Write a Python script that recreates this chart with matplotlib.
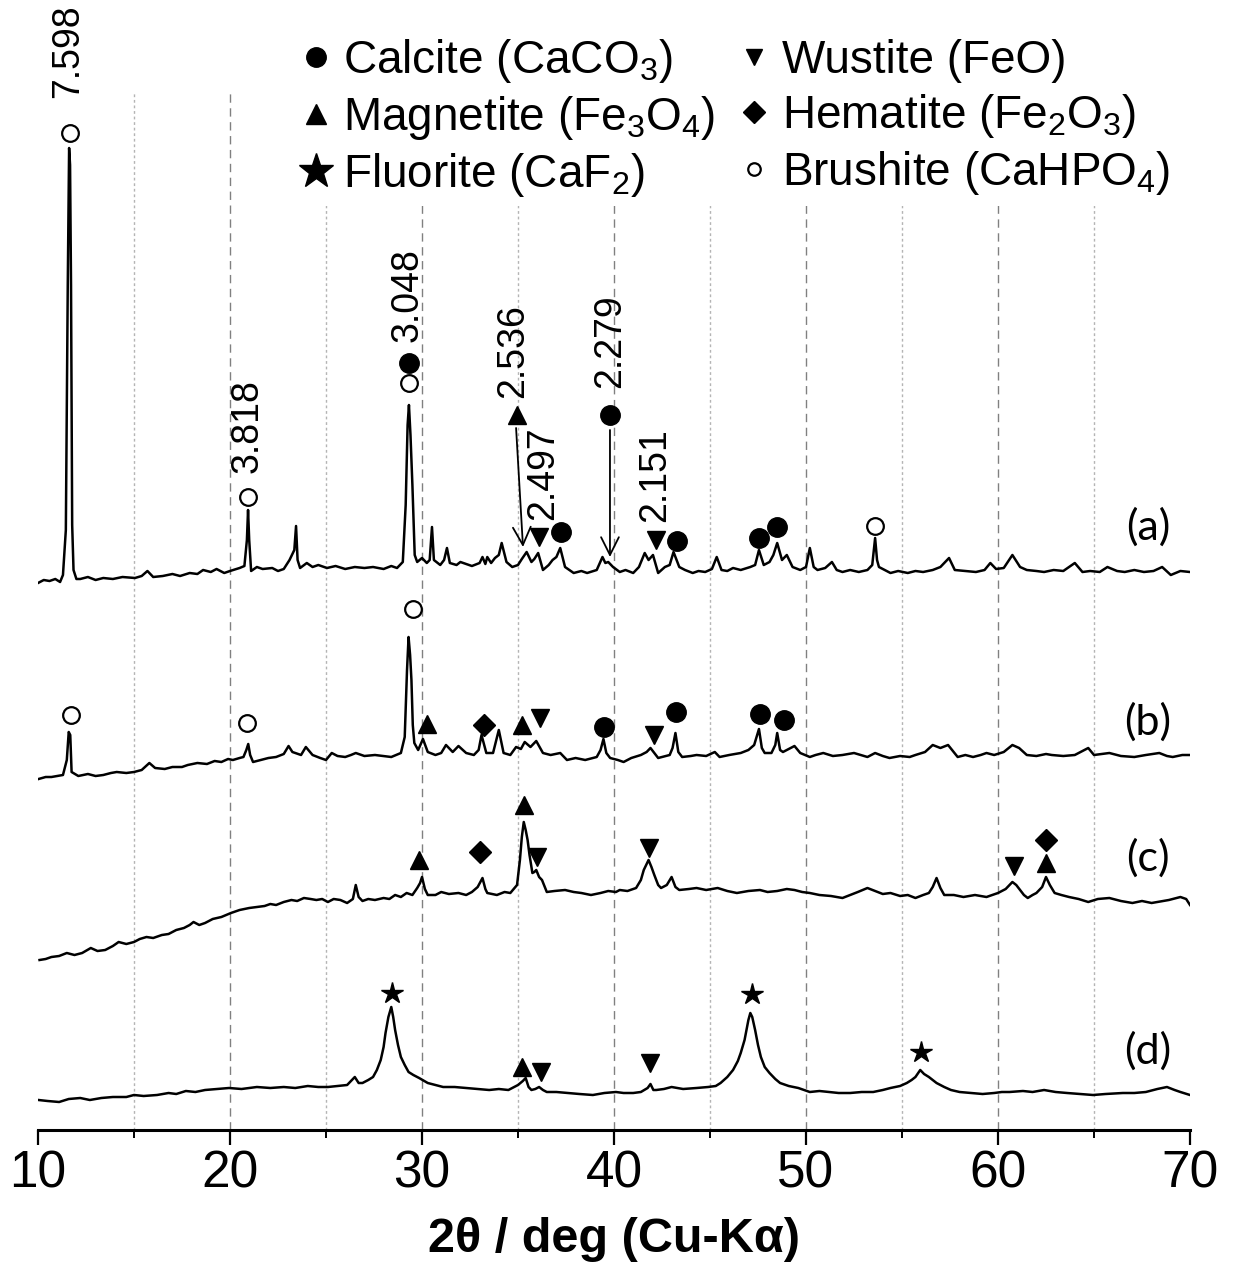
import matplotlib
matplotlib.use("Agg")
import matplotlib.pyplot as plt
import matplotlib.font_manager as fm
from matplotlib.lines import Line2D
import numpy as np

# fonts: narrow sans if available
names = {f.name for f in fm.fontManager.ttflist}
narrow = "Liberation Sans Narrow" if "Liberation Sans Narrow" in names else "Liberation Sans"
plt.rcParams["font.family"] = [narrow, "DejaVu Sans"]
plt.rcParams["mathtext.default"] = "regular"

####################
# Data (read off)  #
####################
# 2theta (deg) and intensity (a.u.) relative to each trace's own reference level
tt_a = [10.0, 10.3, 10.6, 10.9, 11.15, 11.3, 11.45, 11.55, 11.62, 11.67, 11.72, 11.78, 11.85, 12.0, 12.2, 12.6,
        13.0, 13.4, 13.9, 14.4, 15.05, 15.4, 15.7, 16.0, 16.5, 17.0, 17.4, 17.9, 18.3, 18.6, 19.0, 19.3, 19.7,
        20.0, 20.5, 20.75, 20.88, 20.94, 21.0, 21.1, 21.4, 21.7, 22.2, 22.5, 22.8, 23.1, 23.35, 23.44, 23.52,
        23.65, 24.0, 24.3, 24.6, 25.05, 25.5, 26.0, 26.5, 27.0, 27.45, 28.0, 28.4, 28.7, 29.0, 29.15, 29.25,
        29.32, 29.4, 29.5, 29.62, 29.75, 30.0, 30.25, 30.4, 30.52, 30.62, 30.95, 31.15, 31.3, 31.45, 31.8, 32.0,
        32.3, 32.6, 33.0, 33.15, 33.3, 33.4, 33.6, 33.8, 34.0, 34.15, 34.4, 34.7, 35.0, 35.2, 35.45, 35.7, 35.85,
        36.05, 36.3, 36.6, 36.8, 37.0, 37.2, 37.45, 37.9, 38.3, 38.6, 39.1, 39.4, 39.55, 39.7, 39.95, 40.3, 40.6,
        41.0, 41.3, 41.45, 41.6, 41.8, 42.03, 42.3, 42.65, 42.9, 43.1, 43.4, 43.7, 44.1, 44.4, 44.75, 45.1, 45.35,
        45.6, 45.9, 46.2, 46.6, 47.1, 47.35, 47.55, 47.8, 48.1, 48.3, 48.5, 48.75, 49.0, 49.3, 49.7, 50.0, 50.2,
        50.4, 50.6, 51.0, 51.35, 51.6, 51.9, 52.3, 52.75, 53.2, 53.45, 53.6, 53.7, 53.8, 54.4, 54.8, 55.3, 55.7,
        56.1, 56.6, 57.0, 57.45, 57.75, 58.3, 58.85, 59.3, 59.6, 59.9, 60.3, 60.75, 61.15, 61.5, 62.0, 62.4, 62.9,
        63.4, 64.0, 64.4, 64.8, 65.3, 65.7, 66.2, 66.6, 67.1, 67.6, 68.1, 68.55, 69.0, 69.5, 70.0]
int_a = [2, 5, 4, 6, 3, 10, 55, 300, 437, 420, 300, 60, 15, 6, 6, 8,
         5, 7, 6, 8, 7, 9, 14, 8, 9, 11, 9, 12, 11, 15, 13, 16, 12,
         14, 17, 19, 45, 75, 45, 14, 18, 16, 17, 14, 16, 25, 35, 59, 25,
         17, 22, 18, 20, 17, 19, 16, 18, 17, 18, 16, 19, 17, 23, 80, 160,
         180, 150, 100, 30, 23, 27, 22, 25, 58, 25, 20, 25, 37, 22, 20, 23,
         21, 19, 22, 28, 21, 28, 22, 27, 30, 42, 23, 18, 20, 26, 33, 23, 26,
         32, 15, 20, 25, 28, 37, 18, 12, 14, 12, 15, 28, 22, 23, 18, 13, 15,
         12, 18, 25, 32, 25, 30, 12, 18, 20, 33, 18, 15, 12, 14, 13, 16, 28,
         15, 14, 17, 15, 18, 20, 35, 20, 23, 30, 42, 25, 30, 18, 15, 18, 37,
         18, 15, 17, 23, 15, 13, 15, 13, 15, 20, 47, 25, 18, 12, 14, 12, 14,
         13, 15, 18, 27, 15, 14, 13, 15, 22, 16, 17, 30, 18, 15, 14, 13, 15,
         14, 22, 13, 14, 13, 18, 14, 13, 15, 13, 14, 18, 10, 14, 13]

tt_b = [10.03, 10.4, 10.7, 11.0, 11.3, 11.5, 11.6, 11.68, 11.75, 12.1, 12.6, 13.0, 13.4, 13.8, 14.1, 14.6, 15.0,
        15.4, 15.8, 16.1, 16.6, 17.0, 17.5, 17.8, 18.3, 18.8, 19.2, 19.55, 19.9, 20.15, 20.5, 20.7, 20.85, 20.95,
        21.05, 21.2, 21.6, 22.0, 22.4, 22.8, 23.05, 23.25, 23.4, 23.7, 23.95, 24.3, 24.7, 25.0, 25.3, 25.6, 26.0,
        26.3, 26.55, 27.0, 27.55, 28.0, 28.4, 28.9, 29.1, 29.22, 29.3, 29.38, 29.45, 29.52, 29.6, 29.8, 30.05,
        30.3, 30.7, 31.0, 31.25, 31.6, 31.9, 32.3, 32.7, 32.95, 33.1, 33.35, 33.7, 34.0, 34.25, 34.6, 34.9, 35.15,
        35.35, 35.65, 35.95, 36.3, 36.7, 37.2, 37.55, 38.0, 38.5, 39.1, 39.3, 39.45, 39.6, 39.8, 40.2, 40.5, 40.9,
        41.4, 41.7, 41.9, 42.3, 42.9, 43.05, 43.2, 43.35, 43.55, 44.0, 44.3, 44.8, 45.25, 45.5, 46.0, 46.6, 47.0,
        47.3, 47.55, 47.7, 47.85, 48.2, 48.4, 48.5, 48.65, 48.8, 49.1, 49.4, 49.7, 50.2, 50.5, 50.9, 51.4, 51.9,
        52.5, 53.2, 53.6, 54.0, 54.35, 54.9, 55.4, 55.7, 56.2, 56.6, 57.0, 57.4, 57.9, 58.3, 58.7, 59.1, 59.4,
        59.8, 60.3, 60.75, 61.1, 61.5, 62.0, 62.5, 62.8, 63.4, 64.0, 64.7, 65.0, 65.4, 65.8, 66.4, 67.1, 67.7,
        68.4, 68.8, 69.1, 69.6, 70.0]
int_b = [1, 3, 3, 4, 5, 20, 48, 45, 8, 4, 6, 4, 5, 7, 8, 7, 8,
         10, 17, 12, 11, 13, 13, 15, 17, 16, 19, 18, 21, 20, 22, 23, 30, 36,
         25, 18, 20, 22, 23, 26, 34, 28, 27, 25, 33, 25, 22, 20, 27, 24, 23,
         25, 27, 24, 25, 24, 23, 27, 43, 110, 143, 125, 100, 55, 37, 30, 41,
         28, 25, 27, 35, 28, 34, 27, 25, 30, 45, 27, 27, 50, 27, 25, 33, 31,
         38, 33, 39, 27, 25, 27, 20, 22, 20, 23, 30, 41, 27, 22, 20, 18, 22,
         25, 28, 32, 22, 25, 32, 47, 28, 23, 24, 25, 24, 28, 23, 25, 27, 30,
         35, 51, 32, 27, 27, 35, 47, 30, 28, 31, 34, 27, 23, 25, 27, 24, 25,
         27, 23, 27, 24, 22, 24, 23, 25, 28, 35, 32, 35, 23, 25, 23, 25, 27,
         25, 28, 35, 32, 25, 24, 26, 25, 24, 25, 32, 25, 26, 27, 24, 23, 25,
         27, 24, 23, 25, 25]

tt_c = [10.08, 10.4, 10.7, 11.1, 11.5, 11.9, 12.3, 12.75, 13.1, 13.5, 13.9, 14.2, 14.6, 15.0, 15.3, 15.65, 16.0,
        16.45, 16.8, 17.2, 17.6, 17.9, 18.1, 18.4, 18.7, 19.1, 19.55, 19.8, 20.05, 20.5, 21.0, 21.4, 21.8, 22.1,
        22.4, 22.8, 23.2, 23.5, 23.85, 24.2, 24.5, 24.8, 25.1, 25.4, 25.75, 26.1, 26.4, 26.55, 26.7, 26.9, 27.2,
        27.55, 28.0, 28.3, 28.6, 28.9, 29.2, 29.5, 29.75, 29.9, 30.0, 30.15, 30.3, 30.7, 31.0, 31.4, 31.9, 32.3,
        32.6, 32.9, 33.15, 33.3, 33.4, 33.9, 34.3, 34.6, 34.95, 35.1, 35.2, 35.3, 35.4, 35.5, 35.6, 35.75, 35.85,
        35.95, 36.1, 36.25, 36.5, 36.9, 37.45, 37.9, 38.3, 38.8, 39.3, 39.7, 40.1, 40.3, 40.7, 41.15, 41.4, 41.55,
        41.8, 41.95, 42.1, 42.3, 42.45, 42.75, 43.0, 43.2, 43.4, 43.9, 44.3, 44.8, 45.4, 45.9, 46.4, 47.0, 47.6,
        48.0, 48.5, 49.0, 49.4, 49.8, 50.2, 50.7, 51.3, 51.9, 52.3, 52.7, 53.2, 53.6, 54.0, 54.4, 54.9, 55.3,
        55.7, 56.1, 56.4, 56.6, 56.8, 57.0, 57.2, 57.7, 58.2, 58.8, 59.4, 59.7, 60.0, 60.4, 60.75, 60.95, 61.15,
        61.35, 61.55, 61.8, 62.0, 62.3, 62.5, 62.7, 62.95, 63.3, 63.7, 64.2, 64.7, 65.2, 65.8, 66.4, 67.0, 67.5,
        68.0, 68.3, 68.9, 69.5, 69.8, 70.0]
int_c = [5, 6, 8, 9, 12, 10, 12, 17, 14, 15, 19, 23, 21, 23, 26, 28, 27,
         30, 31, 35, 37, 40, 43, 40, 42, 46, 48, 50, 52, 55, 57, 58, 59, 61,
         60, 63, 65, 64, 67, 66, 65, 66, 63, 66, 65, 62, 66, 80, 68, 64, 66,
         65, 67, 66, 70, 68, 72, 70, 77, 82, 88, 76, 70, 70, 73, 71, 72, 70,
         73, 78, 87, 76, 72, 70, 73, 72, 80, 105, 128, 143, 135, 125, 110, 92, 93,
         95, 88, 85, 73, 74, 75, 73, 72, 70, 72, 74, 73, 75, 74, 77, 85, 95,
         105, 98, 90, 80, 77, 80, 88, 78, 75, 76, 77, 75, 77, 74, 72, 74, 75,
         73, 74, 76, 75, 73, 72, 70, 69, 67, 70, 73, 77, 74, 71, 72, 69, 70,
         67, 70, 72, 78, 87, 77, 70, 70, 68, 70, 68, 70, 72, 76, 83, 80, 75,
         70, 67, 70, 72, 78, 88, 80, 72, 70, 68, 66, 63, 66, 67, 64, 62, 64,
         62, 63, 65, 68, 66, 60]

tt_d = [10.03, 10.5, 11.1, 11.6, 12.2, 12.7, 13.3, 13.9, 14.6, 15.0, 15.5, 16.2, 16.8, 17.2, 17.7, 18.2, 18.7,
        19.3, 19.95, 20.6, 21.4, 22.1, 22.8, 23.4, 24.05, 24.6, 25.1, 25.6, 26.1, 26.5, 26.7, 26.9, 27.2, 27.45,
        27.65, 27.85, 28.0, 28.1, 28.25, 28.4, 28.5, 28.6, 28.75, 28.9, 29.1, 29.3, 29.55, 29.85, 30.3, 30.7,
        31.1, 31.7, 32.3, 32.9, 33.5, 34.0, 34.5, 35.0, 35.25, 35.4, 35.55, 35.7, 35.9, 36.1, 36.3, 36.5, 37.0,
        37.6, 38.2, 38.9, 39.5, 40.1, 40.5, 41.0, 41.4, 41.75, 41.9, 42.05, 42.2, 42.6, 43.0, 43.6, 44.3, 44.9,
        45.3, 45.55, 45.9, 46.2, 46.45, 46.6, 46.8, 46.9, 47.0, 47.1, 47.2, 47.35, 47.5, 47.65, 47.85, 48.1,
        48.4, 48.65, 49.1, 49.6, 50.2, 50.7, 51.2, 51.7, 52.3, 52.9, 53.5, 54.0, 54.4, 54.9, 55.25, 55.5, 55.7,
        55.95, 56.15, 56.4, 56.6, 56.8, 57.2, 57.55, 58.0, 58.6, 59.2, 59.8, 60.2, 60.6, 61.3, 61.8, 62.4, 63.0,
        63.6, 64.3, 64.95, 65.6, 66.5, 67.1, 67.7, 68.3, 68.8, 69.2, 69.5, 70.0]
int_d = [5, 4, 3, 6, 7, 5, 7, 8, 8, 10, 9, 10, 12, 11, 14, 13, 15,
         16, 17, 16, 18, 17, 18, 17, 19, 18, 18, 19, 20, 28, 22, 22, 25, 28,
         35, 45, 58, 72, 88, 98, 88, 75, 60, 48, 40, 33, 30, 27, 22, 20,
         18, 18, 17, 16, 15, 16, 15, 20, 24, 27, 18, 15, 16, 18, 15, 13, 13,
         12, 11, 10, 12, 13, 12, 12, 13, 17, 21, 15, 15, 16, 18, 16, 17, 18,
         19, 22, 28, 35, 44, 52, 65, 75, 85, 92, 88, 75, 60, 48, 38, 32,
         26, 22, 19, 17, 13, 14, 13, 12, 12, 13, 13, 15, 17, 19, 22, 25, 28,
         35, 31, 28, 25, 22, 18, 15, 13, 12, 11, 12, 13, 13, 14, 13, 15, 13,
         12, 11, 10, 11, 12, 12, 13, 16, 18, 15, 13, 10]

# vertical offset of each pattern (a.u.) and the level of its (a)-(d) tag
offsets = [545, 350, 165, 25]
trace_names = ["(a)", "(b)", "(c)", "(d)"]
name_levels = [58, 58, 107, 54]

# phase marks: (phase, 2theta, intensity level)
marks_a = [("brushite", 11.67, 452), ("brushite", 20.94, 88), ("brushite", 29.3, 202), ("calcite", 29.3, 222),
           ("magnetite", 34.95, 170), ("wustite", 36.1, 48), ("calcite", 37.25, 53), ("calcite", 39.79, 170),
           ("wustite", 42.2, 45), ("calcite", 43.3, 44), ("calcite", 47.55, 47), ("calcite", 48.5, 58),
           ("brushite", 53.6, 59)]
marks_b = [("brushite", 11.72, 65), ("brushite", 20.87, 57), ("brushite", 29.53, 171), ("magnetite", 30.26, 56),
           ("hematite", 33.23, 55), ("magnetite", 35.21, 55), ("wustite", 36.15, 62), ("calcite", 39.48, 53),
           ("wustite", 42.08, 45), ("calcite", 43.23, 68), ("calcite", 47.6, 66), ("calcite", 48.85, 60)]
marks_c = [("magnetite", 29.84, 105), ("hematite", 33.0, 113), ("magnetite", 35.31, 160), ("wustite", 35.99, 108),
           ("wustite", 41.82, 117), ("wustite", 60.83, 99), ("magnetite", 62.5, 102), ("hematite", 62.5, 125)]
marks_d = [("fluorite", 28.44, 112), ("magnetite", 35.21, 38), ("wustite", 36.2, 33), ("wustite", 41.88, 42),
           ("fluorite", 47.19, 111), ("fluorite", 55.99, 53)]

# d-spacing labels on pattern (a): text, 2theta, level of text start
d_labels = [("7.598", 11.56, 487), ("3.818", 20.89, 112), ("3.048", 29.27, 243), ("2.536", 34.74, 187),
            ("2.497", 36.3, 65), ("2.279", 39.79, 197), ("2.151", 42.14, 63)]
# arrows on pattern (a): (2theta start, level start, 2theta end, level end)
d_arrows = [(34.9, 157, 35.26, 38), (39.79, 155, 39.79, 28)]

phase_labels = {
    "calcite": "Calcite (CaCO$_3$)",
    "magnetite": "Magnetite (Fe$_3$O$_4$)",
    "fluorite": "Fluorite (CaF$_2$)",
    "wustite": "Wustite (FeO)",
    "hematite": "Hematite (Fe$_2$O$_3$)",
    "brushite": "Brushite (CaHPO$_4$)",
}
legend_order = ["calcite", "magnetite", "fluorite", "wustite", "hematite", "brushite"]

styles = {
    "calcite": dict(marker="o", ms=14, mfc="black", mec="black"),
    "wustite": dict(marker="v", ms=13, mfc="black", mec="black"),
    "magnetite": dict(marker="^", ms=13, mfc="black", mec="black"),
    "hematite": dict(marker="D", ms=11, mfc="black", mec="black"),
    "fluorite": dict(marker="*", ms=16, mfc="black", mec="black"),
    "brushite": dict(marker="o", ms=12, mfc="white", mec="black", mew=1.6),
}
legend_ms = {"calcite": 14, "magnetite": 14, "fluorite": 26, "wustite": 12, "hematite": 11, "brushite": 9}

##########
#  Plot  #
##########
fig = plt.figure(figsize=(12.33, 12.67), dpi=100)
ax = fig.add_axes([38 / 1233, 1 - 1130 / 1267, (1190 - 38) / 1233, (1130 - 92) / 1267])
ax.set_xlim(10, 70)
ax.set_ylim(0, 1038)

for g in range(15, 70, 5):
    if g % 10 == 0:
        ax.axvline(g, color="#808080", lw=1.0, ls=(0, (6, 4)), zorder=0.5)
    else:
        ax.axvline(g, color="#b4b4b4", lw=1.0, ls=(0, (2, 2)), zorder=0.5)

traces = [(tt_a, int_a), (tt_b, int_b), (tt_c, int_c), (tt_d, int_d)]
all_marks = [marks_a, marks_b, marks_c, marks_d]
for (tt, inten), off, marks, name, lvl_name in zip(traces, offsets, all_marks, trace_names, name_levels):
    ax.plot(tt, np.array(inten) + off, color="black", lw=1.8, zorder=2)
    for phase, x, lvl in marks:
        ax.plot(x, lvl + off, ls="none", zorder=3, clip_on=False, **styles[phase])
    ax.text(67.8, off + lvl_name, name, ha="center", va="center",
            fontsize=31, family=["Lato", "DejaVu Sans"])

for txt, x, lvl in d_labels:
    ax.text(x, lvl + offsets[0], txt, rotation=90, ha="center", va="bottom", fontsize=27,
            family=["Liberation Sans", "DejaVu Sans"], clip_on=False)
for x0, y0, x1, y1 in d_arrows:
    ax.annotate("", xy=(x1, y1 + offsets[0]), xytext=(x0, y0 + offsets[0]),
                arrowprops=dict(arrowstyle="->", lw=1.3, color="black", mutation_scale=32, shrinkA=0, shrinkB=0),
                zorder=2.5)

# axes cosmetics
for s in ["left", "right", "top"]:
    ax.spines[s].set_visible(False)
ax.spines["bottom"].set_linewidth(2.2)
ax.set_yticks([])
ax.set_xticks(range(10, 71, 10))
ax.set_xticks(range(15, 70, 10), minor=True)
ax.tick_params(axis="x", which="major", direction="out", length=11, width=1.6, labelsize=37, pad=3)
ax.tick_params(axis="x", which="minor", direction="out", length=6, width=1.4)
ax.set_xlabel("2θ / deg (Cu-Kα)", fontsize=35, fontweight="bold", labelpad=13)

handles = [Line2D([], [], ls="none", **{**styles[p], "ms": legend_ms[p]}) for p in legend_order]
leg = ax.legend(handles, [phase_labels[p] for p in legend_order], ncol=2, loc="upper left",
                bbox_to_anchor=(295 / 1233, 1 - 30 / 1267), bbox_transform=fig.transFigure,
                fontsize=33, frameon=True, facecolor="white", edgecolor="none", framealpha=1, fancybox=False,
                borderpad=0.15, borderaxespad=0, handlelength=0.6, handletextpad=0.3, columnspacing=0.55,
                labelspacing=0.2)
leg.set_zorder(5)

fig.savefig("out.png", dpi=100)
